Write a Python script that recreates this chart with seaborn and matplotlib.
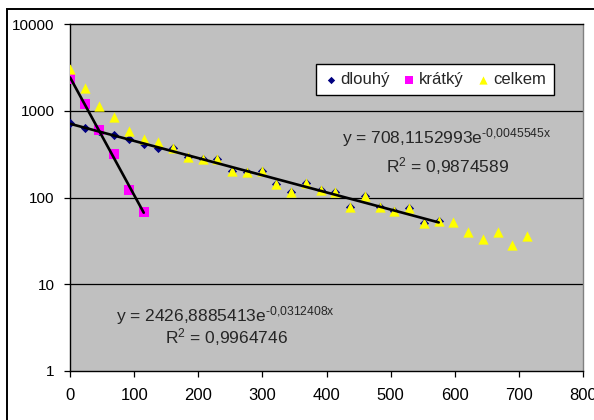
import numpy as np
import pandas as pd
import matplotlib
matplotlib.use("Agg")
import matplotlib.pyplot as plt
import seaborn as sns
from matplotlib.patches import Rectangle
from matplotlib.ticker import NullLocator

# data
x_dlouhy = [0, 23, 46, 69, 92, 115, 138, 161, 184, 207, 230, 253, 276,
            299, 322, 345, 368, 391, 414, 437, 460, 483, 506, 529, 552, 575]
dlouhy = [720, 632, 584, 525, 472, 414, 375, 372, 293, 278, 275, 200, 195,
          200, 145, 116, 147, 122, 116, 78, 104, 78, 70, 76, 51, 54]

x_kratky = [0, 23, 46, 69, 92, 115]
kratky = [2350, 1210, 595, 315, 122, 68]

x_celkem = [0, 23, 46, 69, 92, 115, 138, 161, 184, 207, 230, 253, 276,
            299, 322, 345, 368, 391, 414, 437, 460, 483, 506, 529, 552, 575,
            598, 621, 644, 667, 690, 713]
celkem = [3050, 1850, 1140, 845, 584, 475, 438, 372, 293, 278, 275, 200, 195,
          200, 145, 116, 147, 122, 116, 78, 104, 78, 70, 76, 51, 54,
          52, 40, 33, 40, 28, 36]

# exponential trendlines (coefficients as printed)
fit_dlouhy = (708.1152993, -0.0045545)
fit_kratky = (2426.8885413, -0.0312408)

y_ticks = [1, 10, 100, 1000, 10000]
y_labels = ["1", "10", "100", "1000", "10000"]
x_ticks = [0, 100, 200, 300, 400, 500, 600, 700, 800]

sns.set_theme(style="white")
plt.rcParams['font.family'] = ['Liberation Sans', 'DejaVu Sans']
plt.rcParams['mathtext.fontset'] = 'custom'
plt.rcParams['mathtext.rm'] = 'Liberation Sans'
plt.rcParams['mathtext.it'] = 'Liberation Sans:italic'
plt.rcParams['mathtext.bf'] = 'Liberation Sans:bold'

fig = plt.figure(figsize=(5.94, 4.2), dpi=100)
fig.patch.set_facecolor("white")
ax = fig.add_axes([70/594, 1 - 371/420, 513/594, 347/420])
ax.set_facecolor("#C0C0C0")

df_d = pd.DataFrame({"x": x_dlouhy, "y": dlouhy})
df_k = pd.DataFrame({"x": x_kratky, "y": kratky})
df_c = pd.DataFrame({"x": x_celkem, "y": celkem})

sns.scatterplot(data=df_d, x="x", y="y", marker="D", s=22, color="#000080",
                edgecolor="#000080", linewidth=0, label="dlouhý", ax=ax, zorder=3)
sns.scatterplot(data=df_k, x="x", y="y", marker="s", s=45, color="#FF00FF",
                edgecolor="#FF00FF", linewidth=0, label="krátký", ax=ax, zorder=3)
sns.scatterplot(data=df_c, x="x", y="y", marker="^", s=55, color="#FFFF00",
                edgecolor="#FFFF00", linewidth=0, label="celkem", ax=ax, zorder=4)

# trendlines
for (a, b), xs in [(fit_dlouhy, x_dlouhy), (fit_kratky, x_kratky)]:
    xx = np.linspace(min(xs), max(xs), 100)
    trend = pd.DataFrame({"x": xx, "y": a * np.exp(b * xx)})
    sns.lineplot(data=trend, x="x", y="y", color="black", linewidth=1.9,
                 legend=False, ax=ax, zorder=5)

ax.set_yscale("log")
ax.set_ylim(1, 10000)
ax.set_xlim(0, 800)
ax.set_yticks(y_ticks)
ax.set_yticklabels(y_labels)
ax.yaxis.set_minor_locator(NullLocator())
ax.set_xticks(x_ticks)
ax.set_xticklabels([str(t) for t in x_ticks])
ax.set_xlabel("")
ax.set_ylabel("")

ax.grid(False)
for yv in y_ticks[1:-1]:
    ax.axhline(yv, color="black", linewidth=0.9, zorder=1)

ax.tick_params(axis="both", which="major", direction="out", length=4,
               width=0.9, color="black", labelcolor="black",
               left=True, bottom=True)
ax.tick_params(axis="y", pad=7, labelsize=11)
ax.tick_params(axis="x", pad=8, labelsize=12)

for side in ["left", "bottom", "top"]:
    ax.spines[side].set_color("black")
    ax.spines[side].set_linewidth(1.0)
ax.spines["right"].set_color("#808080")
ax.spines["right"].set_linewidth(1.0)

leg = ax.legend(loc="center", bbox_to_anchor=(0.7115, 0.84), ncol=3,
                frameon=True, fancybox=False, fontsize=12, handletextpad=0.2,
                columnspacing=0.75, borderpad=0.5, handlelength=0.8,
                markerscale=0.8, borderaxespad=0)
leg.get_frame().set_edgecolor("black")
leg.get_frame().set_linewidth(1.0)
leg.get_frame().set_facecolor("white")
leg.get_frame().set_alpha(1)

eq_size = 12.5
ax.text(0.735, 0.674, r"y = 708,1152993e$\mathregular{^{\text{-}0{,}0045545x}}$",
        transform=ax.transAxes, ha="center", va="center", fontsize=eq_size, zorder=6)
ax.text(0.737, 0.591, r"R$\mathregular{^2}$ = 0,9874589",
        transform=ax.transAxes, ha="center", va="center", fontsize=eq_size, zorder=6)
ax.text(0.304, 0.161, r"y = 2426,8885413e$\mathregular{^{\text{-}0{,}0312408x}}$",
        transform=ax.transAxes, ha="center", va="center", fontsize=eq_size, zorder=6)
ax.text(0.306, 0.098, r"R$\mathregular{^2}$ = 0,9964746",
        transform=ax.transAxes, ha="center", va="center", fontsize=eq_size, zorder=6)

# outer chart frame
fig.patches.append(Rectangle((7/594, -0.05), 1.1, 1 - 9/420 + 0.05,
                             transform=fig.transFigure, fill=False,
                             edgecolor="black", linewidth=1.4))

fig.savefig("out.png", dpi=100)
